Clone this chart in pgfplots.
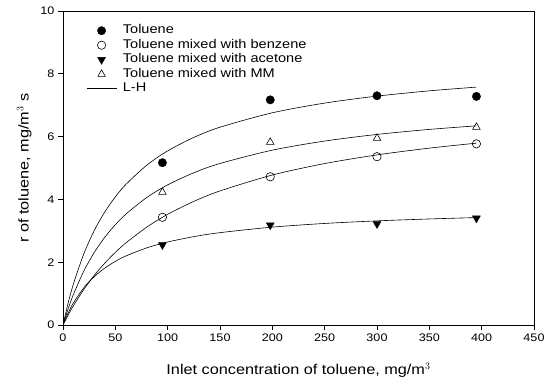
\documentclass[border=0pt]{standalone}
\usepackage{pgfplots}
\pgfplotsset{compat=1.18}
\usepackage{fontspec}
\setmainfont[FakeStretch=1.15]{Liberation Sans}
\begin{document}
\begin{tikzpicture}
\begin{axis}[
  at={(0,0)}, anchor=south west,
  scale only axis, width=471bp, height=314bp,
  xmin=0, xmax=450, ymin=0, ymax=10,
  xtick={0,50,...,450}, ytick={0,2,...,10},
  tick align=outside, xtick pos=left, ytick pos=left,
  major tick length=5bp,
  axis line style={line width=0.7pt},
  tick style={line width=0.6pt, black},
  /pgf/number format/assume math mode=true,
  tick label style={font=\fontsize{11}{13}\selectfont},
  xlabel={Inlet concentration of toluene, mg/m$^3$},
  ylabel={r of toluene, mg/m$^3$ s},
  label style={font=\fontsize{14.2}{16}\selectfont},
  xlabel style={yshift=-15bp},
  ylabel style={yshift=2bp},
  legend style={draw=none, fill=none, inner sep=0pt, at={(0.049,0.961)}, anchor=north west,
    font=\fontsize{12.7}{14}\selectfont, row sep=0bp, column sep=5bp,
    nodes={inner sep=1bp, text height=9.5bp, text depth=3bp}},
  legend cell align=left,
  legend image code/.code={%
    \draw[mark repeat=2,mark phase=2,#1] plot coordinates {(0bp,0bp) (15bp,0bp) (30bp,0bp)};},
]
\addplot[only marks, mark=*, mark size=4.2pt, black] coordinates {(95,5.17) (198,7.17) (300,7.30) (395,7.28)};
\addlegendentry{Toluene}
\addplot[only marks, mark=o, mark size=4.2pt, black, line width=0.6pt] coordinates {(95,3.43) (198,4.72) (300,5.36) (395,5.77)};
\addlegendentry{Toluene mixed with benzene}
\addplot[only marks, mark=triangle*, mark size=4.6pt, black, mark options={rotate=180}] coordinates {(95,2.55) (198,3.18) (300,3.22) (395,3.40)};
\addlegendentry{Toluene mixed with acetone}
\addplot[only marks, mark=triangle, mark size=4.4pt, black, line width=0.6pt] coordinates {(95,4.23) (198,5.82) (300,5.95) (395,6.30)};
\addlegendentry{Toluene mixed with MM}
% L-H fitted curves (values read/estimated)
\addplot[black, line width=0.6pt, smooth] coordinates {(0,0) (5,0.709) (10,1.311) (20,2.276) (30,3.017) (40,3.604) (50,4.080) (60,4.474) (80,5.088) (100,5.545) (125,5.974) (150,6.299) (200,6.758) (250,7.067) (300,7.289) (350,7.457) (395,7.576)};
\addlegendentry{L-H}
\addplot[black, line width=0.6pt, smooth, forget plot] coordinates {(0,0) (5,0.523) (10,0.976) (20,1.725) (30,2.317) (40,2.798) (50,3.195) (60,3.529) (80,4.060) (100,4.463) (125,4.848) (150,5.144) (200,5.568) (250,5.858) (300,6.069) (350,6.229) (395,6.343)};
\addplot[black, line width=0.6pt, smooth, forget plot] coordinates {(0,0) (5,0.322) (10,0.617) (20,1.138) (30,1.586) (40,1.973) (50,2.313) (60,2.612) (80,3.116) (100,3.525) (125,3.937) (150,4.270) (200,4.776) (250,5.141) (300,5.417) (350,5.633) (395,5.791)};
\addplot[black, line width=0.6pt, smooth, forget plot] coordinates {(0,0) (5,0.389) (10,0.706) (20,1.191) (30,1.545) (40,1.814) (50,2.026) (60,2.197) (80,2.456) (100,2.643) (125,2.814) (150,2.941) (200,3.117) (250,3.234) (300,3.316) (350,3.377) (395,3.421)};
\end{axis}
\pgfresetboundingbox
\path (-63bp,-56bp) rectangle (482bp,325bp);
\end{tikzpicture}
\end{document}
